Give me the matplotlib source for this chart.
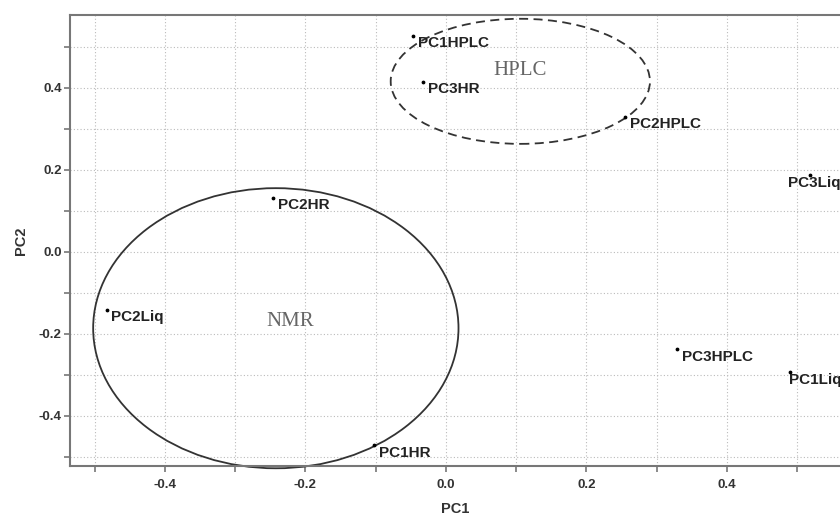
import numpy as np
import matplotlib.pyplot as plt
from matplotlib.patches import Ellipse
from matplotlib.ticker import MultipleLocator

plt.rcParams["axes.unicode_minus"] = False

# PCA loadings
names = ["PC1HPLC", "PC3HR", "PC2HPLC", "PC3Liq", "PC2HR", "PC2Liq", "PC3HPLC", "PC1Liq", "PC1HR"]
pc1 = [-0.047, -0.033, 0.255, 0.518, -0.246, -0.483, 0.329, 0.490, -0.102]
pc2 = [0.527, 0.415, 0.330, 0.187, 0.132, -0.141, -0.237, -0.293, -0.471]

# group ellipses: name, centre x, centre y, width, height, linestyle
groups = ["NMR", "HPLC"]
ell_cx = [-0.242, 0.106]
ell_cy = [-0.186, 0.416]
ell_w = [0.52, 0.369]
ell_h = [0.683, 0.305]
ell_ls = ["-", (0, (5, 3))]

fig = plt.figure(figsize=(8.4, 5.15), dpi=100)
ax = fig.add_axes([0.0833, 0.0951, 0.9167, 0.876])

ax.scatter(pc1, pc2, s=3, color="black", zorder=3)
for n, x, y in zip(names, pc1, pc2):
    dx = 3.5
    if n == "PC3Liq":
        dx = -16
    elif n == "PC1Liq":
        dx = -1
    ax.annotate(n, (x, y), xytext=(dx, -5.5), textcoords="offset points", va="center",
                fontsize=11, fontweight="bold", color="#222222", family="Liberation Sans")

for g, cx, cy, w, h, ls in zip(groups, ell_cx, ell_cy, ell_w, ell_h, ell_ls):
    e = Ellipse((cx, cy), w, h, fill=False, edgecolor="#333333", linewidth=1.3,
                linestyle=ls, clip_on=False, zorder=2)
    ax.add_patch(e)

ax.text(-0.222, -0.17, "NMR", fontsize=15, color="#666666", family="Liberation Serif",
        ha="center", va="center")
ax.text(0.106, 0.443, "HPLC", fontsize=15, color="#666666", family="Liberation Serif",
        ha="center", va="center")

ax.set_xlim(-0.535, 0.561)
ax.set_ylim(-0.522, 0.578)
ax.xaxis.set_major_locator(MultipleLocator(0.2))
ax.xaxis.set_minor_locator(MultipleLocator(0.1))
ax.yaxis.set_major_locator(MultipleLocator(0.2))
ax.yaxis.set_minor_locator(MultipleLocator(0.1))
ax.grid(which="both", linestyle=(0, (1, 2)), color="#bbbbbb", linewidth=0.8)
ax.set_axisbelow(True)

for sp in ["left", "bottom", "top"]:
    ax.spines[sp].set_color("#777777")
    ax.spines[sp].set_linewidth(1.5)
ax.spines["right"].set_visible(False)
ax.tick_params(which="both", direction="out", length=4, width=1.2, color="#777777",
               labelsize=9.5, labelcolor="#333333", pad=2)
ax.tick_params(axis="x", pad=5)
for lab in ax.get_xticklabels() + ax.get_yticklabels():
    lab.set_fontweight("bold")
    lab.set_family("Liberation Sans")

ax.set_xlabel("PC1", fontsize=10.5, fontweight="bold", color="#333333", family="Liberation Sans", labelpad=8)
ax.set_ylabel("PC2", fontsize=10.5, fontweight="bold", color="#333333", family="Liberation Sans", labelpad=8)

fig.savefig("out.png", dpi=100)
